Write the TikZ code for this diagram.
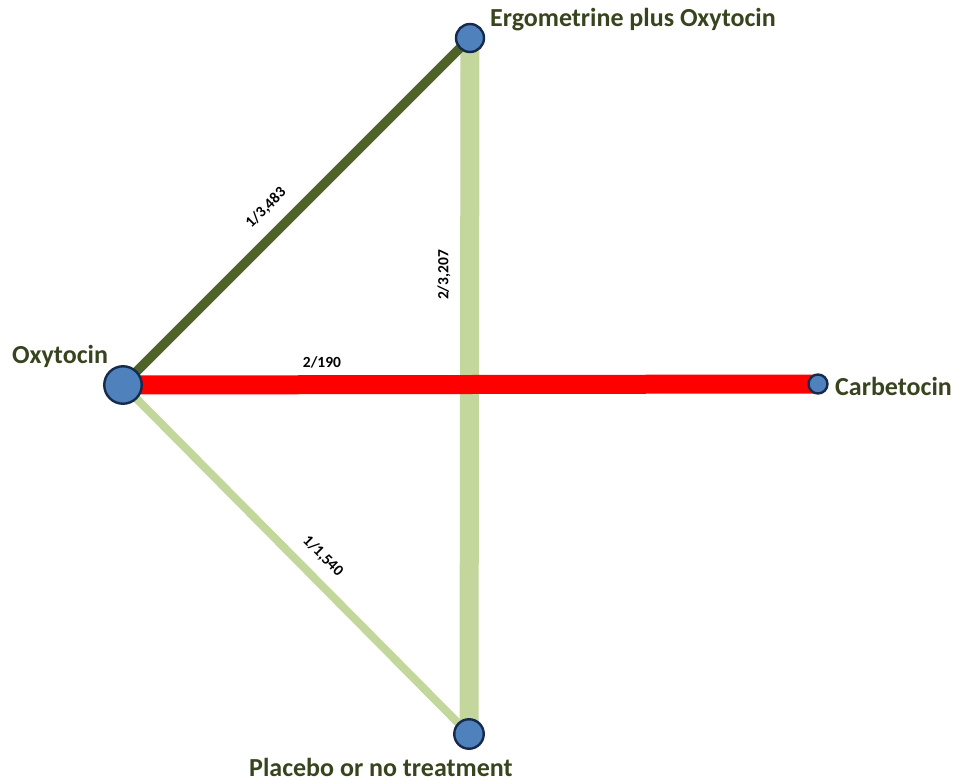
\documentclass[tikz,border=0pt]{standalone}
\usepackage{fontspec}
\setmainfont{Carlito}
\begin{document}
\begin{tikzpicture}[x=1pt,y=-1pt,
  tnode/.style={circle,fill={rgb,255:red,79;green,129;blue,189},draw={rgb,255:red,22;green,42;blue,75},line width=2.4pt,inner sep=0pt},
  lbl/.style={font=\bfseries\fontsize{26}{28}\selectfont,text={rgb,255:red,55;green,68;blue,30},inner sep=0pt},
  elbl/.style={font=\bfseries\fontsize{15.5}{17}\selectfont,text=black,inner sep=0pt},
  darkg/.style={draw={rgb,255:red,79;green,98;blue,40},line width=9.5pt},
  lightg/.style={draw={rgb,255:red,195;green,214;blue,155}},
  redl/.style={draw={rgb,255:red,255;green,0;blue,0},line width=19pt}]
\useasboundingbox (0,0) rectangle (956,781);
\coordinate (oxc) at (123,385);
\coordinate (erc) at (470,38);
\coordinate (cac) at (818,384);
\coordinate (plc) at (469,734);
% edges
\draw[lightg,line width=19pt] (erc) -- (plc);
\draw[lightg,line width=8pt] (oxc) -- (plc);
\draw[darkg] (oxc) -- (erc);
\draw[redl] (oxc) -- (cac);
% nodes
\node[tnode,minimum size=37.5pt] (ox) at (oxc) {};
\node[tnode,minimum size=28pt] (er) at (erc) {};
\node[tnode,minimum size=19pt] (ca) at (cac) {};
\node[tnode,minimum size=29.5pt] (pl) at (plc) {};
% labels
\node[lbl,anchor=west] (erl) at (490,20) {Ergometrine plus Oxytocin};
\node[lbl,anchor=west] (oxl) at (12,356) {Oxytocin};
\node[lbl,anchor=west] (cal) at (835,386) {Carbetocin};
\node[lbl,anchor=west] (pll) at (249,767) {Placebo or no treatment};
% edge labels
\node[elbl,rotate=45] (e1) at (266,208) {1/3,483};
\node[elbl,rotate=90] (e2) at (444,275) {2/3,207};
\node[elbl] (e3) at (322,362) {2/190};
\node[elbl,rotate=-45] (e4) at (323,556) {1/1,540};
\end{tikzpicture}
\end{document}
